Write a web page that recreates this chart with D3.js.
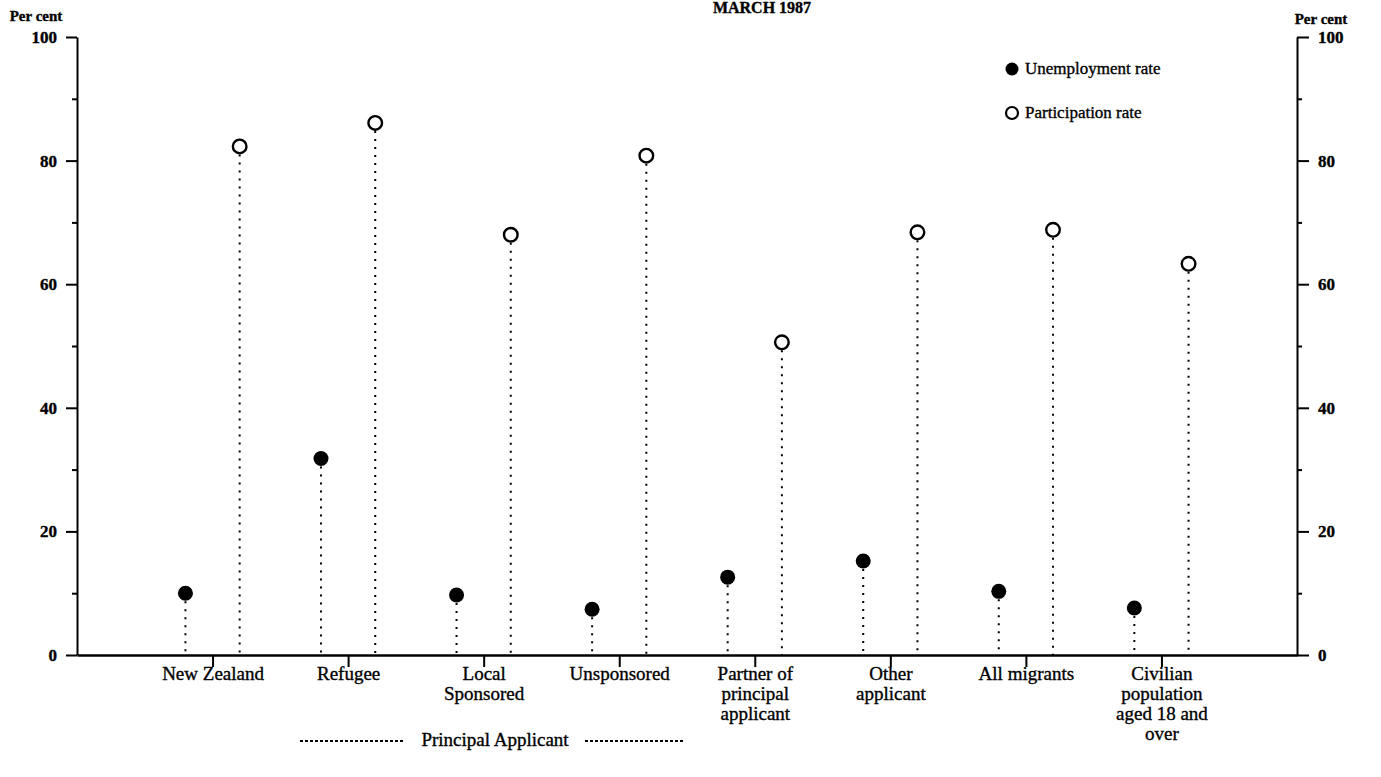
<!DOCTYPE html>
<html>
<head>
<meta charset="utf-8">
<script src="https://cdn.jsdelivr.net/npm/d3@7"></script>
<style>
  body { margin: 0; background: #fff; }
  text { font-family: "Liberation Serif", "DejaVu Serif", serif; fill: #000; stroke: #000; stroke-width: 0.35px; }
</style>
</head>
<body>
<div id="chart-area"></div>
<script>
// data
var categories = [
    ["New Zealand"],
    ["Refugee"],
    ["Local", "Sponsored"],
    ["Unsponsored"],
    ["Partner of", "principal", "applicant"],
    ["Other", "applicant"],
    ["All migrants"],
    ["Civilian", "population", "aged 18 and", "over"]
];
var unemployment = [10.0, 31.8, 9.7, 7.4, 12.6, 15.2, 10.3, 7.6];
var participation = [82.3, 86.1, 68.0, 80.8, 50.6, 68.4, 68.8, 63.3];
var majorTicks = [0, 20, 40, 60, 80, 100];
var minorTicks = [10, 30, 50, 70, 90];

var width = 1381;
var height = 777;
var margin = {left: 77, right: 84, top: 37, bottom: 122};
var plotW = width - margin.left - margin.right;
var plotH = height - margin.top - margin.bottom;

var svg = d3.select('#chart-area')
    .append('svg')
        .attr('width', width)
        .attr('height', height);

var g = svg.append('g')
    .attr('transform', 'translate(' + margin.left + ', ' + margin.top + ')');

var names = categories.map((d) => { return d.join(' '); });

var x = d3.scalePoint()
    .domain(names)
    .range([0, plotW])
    .padding(1);

var y = d3.scaleLinear()
    .domain([0, 100])
    .range([plotH, 0]);

var off = x.step() * 0.2;

// title (cut off at the top of the scan)
svg.append('text')
    .attr('x', 762)
    .attr('y', 13)
    .attr('text-anchor', 'middle')
    .attr('font-size', '16px')
    .attr('font-weight', 'bold')
    .text('MARCH 1987');

// left axis
g.append('g')
    .attr('class', 'left axis')
    .call(d3.axisLeft(y).tickValues(majorTicks).tickSize(11).tickPadding(9).tickSizeOuter(0))
    .call((s) => s.select('.domain').attr('stroke-width', 2));
g.append('g')
    .call(d3.axisLeft(y).tickValues(minorTicks).tickSize(5).tickFormat('').tickSizeOuter(0))
    .call((s) => s.select('.domain').remove());

// right axis
g.append('g')
    .attr('class', 'right axis')
    .attr('transform', 'translate(' + plotW + ', 0)')
    .call(d3.axisRight(y).tickValues(majorTicks).tickSize(12).tickPadding(9).tickSizeOuter(0))
    .call((s) => s.select('.domain').attr('stroke-width', 2));
g.append('g')
    .attr('transform', 'translate(' + plotW + ', 0)')
    .call(d3.axisRight(y).tickValues(minorTicks).tickSize(5).tickFormat('').tickSizeOuter(0))
    .call((s) => s.select('.domain').remove());

g.selectAll('.axis text').attr('font-size', '17px').attr('font-weight', 'bold').attr('font-family', '"Liberation Serif", serif');
g.selectAll('.tick line').attr('stroke-width', 2);

// bottom axis
var xAxis = g.append('g')
    .attr('class', 'bottom axis')
    .attr('transform', 'translate(0, ' + plotH + ')')
    .call(d3.axisBottom(x).tickSize(12).tickSizeOuter(0).tickFormat(''));
xAxis.select('.domain').attr('stroke-width', 2.5);
xAxis.selectAll('.tick line').attr('stroke-width', 2);

var labels = xAxis.selectAll('.tick').append('text')
    .attr('y', 25)
    .attr('text-anchor', 'middle')
    .attr('font-size', '19px')
    .attr('font-family', '"Liberation Serif", serif');
labels.each(function (d, i) {
    var t = d3.select(this);
    categories[i].forEach((line, j) => {
        t.append('tspan').attr('x', 0).attr('dy', j === 0 ? '0' : '20px').text(line);
    });
});

// "Principal Applicant" bracket
g.append('text')
    .attr('x', 495 - margin.left)
    .attr('y', plotH + 91)
    .attr('text-anchor', 'middle')
    .attr('font-size', '19px')
    .text('Principal Applicant');
[[300, 405], [585, 685]].forEach((p) => {
    g.append('line')
        .attr('x1', p[0] - margin.left).attr('x2', p[1] - margin.left)
        .attr('y1', plotH + 86).attr('y2', plotH + 86)
        .attr('stroke', '#000')
        .attr('stroke-width', 2)
        .attr('stroke-dasharray', '3,2');
});

// dotted stems
function stems(vals, dx) {
    g.selectAll(null).data(vals).enter()
        .append('line')
        .attr('x1', (d, i) => { return x(names[i]) + dx; })
        .attr('x2', (d, i) => { return x(names[i]) + dx; })
        .attr('y1', (d) => { return y(d); })
        .attr('y2', plotH)
        .attr('stroke', '#000')
        .attr('stroke-width', 2)
        .attr('stroke-dasharray', '2,6');
}
stems(unemployment, -off);
stems(participation, off);

g.selectAll('circle.unemp').data(unemployment).enter()
    .append('circle')
    .attr('class', 'unemp')
    .attr('cx', (d, i) => { return x(names[i]) - off; })
    .attr('cy', (d) => { return y(d); })
    .attr('r', 7.5)
    .attr('fill', '#000');

g.selectAll('circle.part').data(participation).enter()
    .append('circle')
    .attr('class', 'part')
    .attr('cx', (d, i) => { return x(names[i]) + off; })
    .attr('cy', (d) => { return y(d); })
    .attr('r', 6.8)
    .attr('fill', '#fff')
    .attr('stroke', '#000')
    .attr('stroke-width', 2.4);

// axis titles
svg.append('text')
    .attr('x', 36).attr('y', 21)
    .attr('text-anchor', 'middle')
    .attr('font-size', '15px')
    .attr('font-weight', 'bold')
    .text('Per cent');
svg.append('text')
    .attr('x', 1321).attr('y', 24)
    .attr('text-anchor', 'middle')
    .attr('font-size', '15px')
    .attr('font-weight', 'bold')
    .text('Per cent');

// legend
var legend = svg.append('g').attr('transform', 'translate(1012, 69)');
legend.append('circle').attr('r', 6.5).attr('fill', '#000');
legend.append('text').attr('x', 13).attr('y', 5).attr('font-size', '17px').text('Unemployment rate');
legend.append('circle').attr('cy', 44).attr('r', 6).attr('fill', '#fff').attr('stroke', '#000').attr('stroke-width', 2.2);
legend.append('text').attr('x', 13).attr('y', 49).attr('font-size', '17px').text('Participation rate');
</script>
</body>
</html>
